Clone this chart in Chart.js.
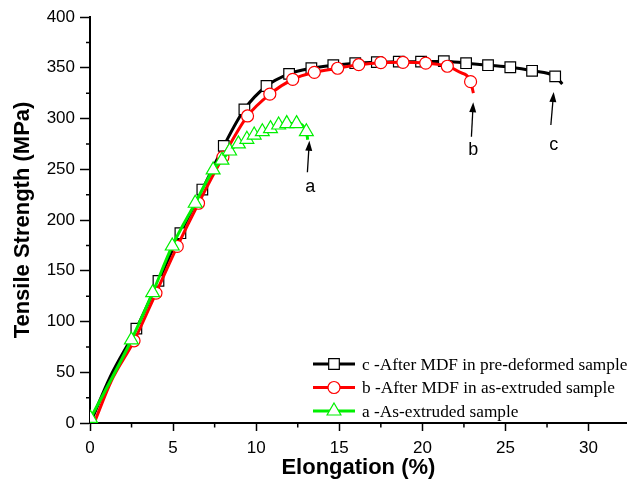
<!DOCTYPE html>
<html>
<head>
<meta charset="utf-8">
<script src="https://cdn.jsdelivr.net/npm/chart.js@4.4.1/dist/chart.umd.min.js"></script>
<style>
  html, body { margin: 0; padding: 0; background: #fff; }
</style>
</head>
<body>
<canvas id="chart" width="636" height="481"></canvas>
<script>
// series labels (legend order)
const seriesNames = [
    "c -After MDF in pre-deformed sample",
    "b -After MDF in as-extruded sample",
    "a -As-extruded sample"
];

// tick values
const xTicks = [0, 5, 10, 15, 20, 25, 30];
const yTicks = [0, 50, 100, 150, 200, 250, 300, 350, 400];

// c - after MDF in pre-deformed sample
const cX = [0.1, 1.2, 2.79, 4.12, 5.44, 6.76, 8.05, 9.29, 10.62, 11.98, 13.32, 14.64, 15.96, 17.26, 18.58, 19.92, 21.29, 22.63, 23.95, 25.29, 26.6, 27.99, 28.42];
const cY = [3, 45, 93, 140, 187, 230, 273, 309, 332, 344, 349.5, 352.5, 354.5, 355.5, 356, 356, 356.5, 354.5, 352.5, 350.5, 347, 341.5, 334];
const cPlain = [0, 1, 22];

// b - after MDF in as-extruded sample
const bX = [0.25, 1.3, 2.65, 3.97, 5.25, 6.53, 8.0, 9.48, 10.82, 12.2, 13.5, 14.9, 16.17, 17.5, 18.83, 20.2, 21.5, 22.2, 22.9, 23.07];
const bY = [0, 42, 81, 128, 174, 216.5, 262, 302.5, 324, 338.6, 345.5, 349.5, 353, 355, 355.3, 354.5, 351.5, 346, 336.3, 325];
const bPlain = [0, 1, 17, 19];

// a - as-extruded sample
const aX = [0.03, 2.49, 3.77, 4.95, 6.33, 7.41, 7.94, 8.4, 8.93, 9.44, 9.88, 10.37, 10.86, 11.35, 11.84, 12.43, 13.02, 13.1];
const aY = [4.6, 81.8, 128.4, 174.4, 216.5, 249.3, 259, 268, 275, 279.5, 283.7, 287, 290, 293.6, 295, 295, 287, 279];
const aPlain = [17];

// arrow notes: letter, text position, arrow tail -> head
const noteText = ["a", "b", "c"];
const noteX = [13.26, 23.06, 27.9];
const noteY = [232, 269, 274];
const arrowFromX = [13.08, 22.95, 27.73];
const arrowFromY = [247, 282, 293.6];
const arrowToX = [13.2, 23.06, 27.9];
const arrowToY = [278, 316, 326];

const sans = "'Liberation Sans', Arial, sans-serif";
const serif = "'Liberation Serif', 'Times New Roman', serif";

function toPts(xs, ys) {
    return xs.map((x, i) => ({ x: x, y: ys[i] }));
}

function makeSet(xs, ys, plain, color, style, radius, order) {
    return {
        label: "",
        data: toPts(xs, ys),
        showLine: true,
        borderColor: color,
        borderWidth: 3,
        cubicInterpolationMode: "monotone",
        pointStyle: style,
        pointRadius: ctx => plain.includes(ctx.dataIndex) ? 0 : radius,
        pointBackgroundColor: "#fff",
        pointBorderColor: color,
        pointBorderWidth: 1.2,
        order: order
    };
}

const minorTicks = {
    id: "minorTicks",
    afterDraw(chart) {
        const { ctx, chartArea } = chart;
        const x = chart.scales.x, y = chart.scales.y;
        ctx.save();
        ctx.strokeStyle = "#000";
        ctx.lineWidth = 1.5;
        ctx.beginPath();
        for (let v = 2.5; v < x.max; v += 5) {
            const px = x.getPixelForValue(v);
            ctx.moveTo(px, chartArea.bottom);
            ctx.lineTo(px, chartArea.bottom + 4.5);
        }
        for (let v = 25; v < y.max; v += 50) {
            const py = y.getPixelForValue(v);
            ctx.moveTo(chartArea.left, py);
            ctx.lineTo(chartArea.left - 4, py);
        }
        ctx.stroke();
        ctx.restore();
    }
};

const notes = {
    id: "notes",
    afterDraw(chart) {
        const { ctx } = chart;
        const x = chart.scales.x, y = chart.scales.y;
        ctx.save();
        ctx.fillStyle = "#000";
        ctx.strokeStyle = "#000";
        ctx.lineWidth = 1.3;
        ctx.font = "18px " + sans;
        ctx.textAlign = "center";
        ctx.textBaseline = "middle";
        noteText.forEach((t, i) => {
            ctx.fillText(t, x.getPixelForValue(noteX[i]), y.getPixelForValue(noteY[i]));
            const x0 = x.getPixelForValue(arrowFromX[i]), y0 = y.getPixelForValue(arrowFromY[i]);
            const x1 = x.getPixelForValue(arrowToX[i]), y1 = y.getPixelForValue(arrowToY[i]);
            const ang = Math.atan2(y1 - y0, x1 - x0);
            ctx.beginPath();
            ctx.moveTo(x0, y0);
            ctx.lineTo(x1 - 8 * Math.cos(ang), y1 - 8 * Math.sin(ang));
            ctx.stroke();
            ctx.beginPath();
            ctx.moveTo(x1, y1);
            ctx.lineTo(x1 - 10 * Math.cos(ang) + 3.5 * Math.sin(ang), y1 - 10 * Math.sin(ang) - 3.5 * Math.cos(ang));
            ctx.lineTo(x1 - 10 * Math.cos(ang) - 3.5 * Math.sin(ang), y1 - 10 * Math.sin(ang) + 3.5 * Math.cos(ang));
            ctx.closePath();
            ctx.fill();
        });
        ctx.restore();
    }
};

// legend with line + marker sample
const lineLegend = {
    id: "lineLegend",
    afterDraw(chart) {
        const { ctx } = chart;
        const sets = chart.data.datasets;
        ctx.save();
        ctx.font = "17.3px " + serif;
        ctx.textBaseline = "middle";
        ctx.textAlign = "left";
        seriesNames.forEach((name, i) => {
            const ds = sets[i];
            const yy = 364 + i * 23.5;
            ctx.strokeStyle = ds.borderColor;
            ctx.lineWidth = 3;
            ctx.beginPath();
            ctx.moveTo(313, yy);
            ctx.lineTo(355, yy);
            ctx.stroke();
            ctx.lineWidth = 1.2;
            ctx.fillStyle = "#fff";
            Chart.helpers.drawPoint(ctx, {
                pointStyle: ds.pointStyle,
                radius: ds.pointStyle === "triangle" ? 8 : (ds.pointStyle === "rect" ? 7.5 : 6),
                borderWidth: 1.2
            }, 334, yy);
            ctx.fillStyle = "#000";
            ctx.fillText(name, 362, yy + 1);
        });
        ctx.restore();
    }
};

new Chart(document.getElementById("chart"), {
    type: "scatter",
    data: {
        datasets: [
            makeSet(cX, cY, cPlain, "#000", "rect", 7.5, 3),
            makeSet(bX, bY, bPlain, "#ff0000", "circle", 6, 2),
            makeSet(aX, aY, aPlain, "#00f000", "triangle", 8, 1)
        ]
    },
    options: {
        responsive: false,
        animation: false,
        devicePixelRatio: 1,
        layout: { padding: { top: 17, right: 0, left: 0, bottom: 0 } },
        plugins: {
            legend: { display: false },
            tooltip: { enabled: false }
        },
        scales: {
            x: {
                type: "linear",
                min: 0,
                max: 32.3,
                grid: { drawOnChartArea: false, tickLength: 8, tickColor: "#000", tickWidth: 1.5 },
                border: { color: "#000", width: 2 },
                ticks: { color: "#000", font: { family: sans, size: 17 }, padding: 7, maxRotation: 0 },
                afterBuildTicks: s => { s.ticks = xTicks.map(v => ({ value: v })); },
                afterFit: s => { s.height = 58; },
                title: {
                    display: true,
                    text: "Elongation (%)",
                    color: "#000",
                    font: { family: sans, size: 22, weight: "bold" },
                    padding: { top: 0, bottom: 0 }
                }
            },
            y: {
                type: "linear",
                min: 0,
                max: 400,
                grid: { drawOnChartArea: false, tickLength: 10, tickColor: "#000", tickWidth: 1.5 },
                border: { color: "#000", width: 2 },
                ticks: { color: "#000", font: { family: sans, size: 17 }, padding: 5 },
                afterBuildTicks: s => { s.ticks = yTicks.map(v => ({ value: v })); },
                afterFit: s => { s.width = 90; },
                title: {
                    display: true,
                    text: "Tensile Strength (MPa)",
                    color: "#000",
                    font: { family: sans, size: 22, weight: "bold" },
                    padding: { top: 10, bottom: 0 }
                }
            }
        }
    },
    plugins: [minorTicks, notes, lineLegend]
});
</script>
</body>
</html>
